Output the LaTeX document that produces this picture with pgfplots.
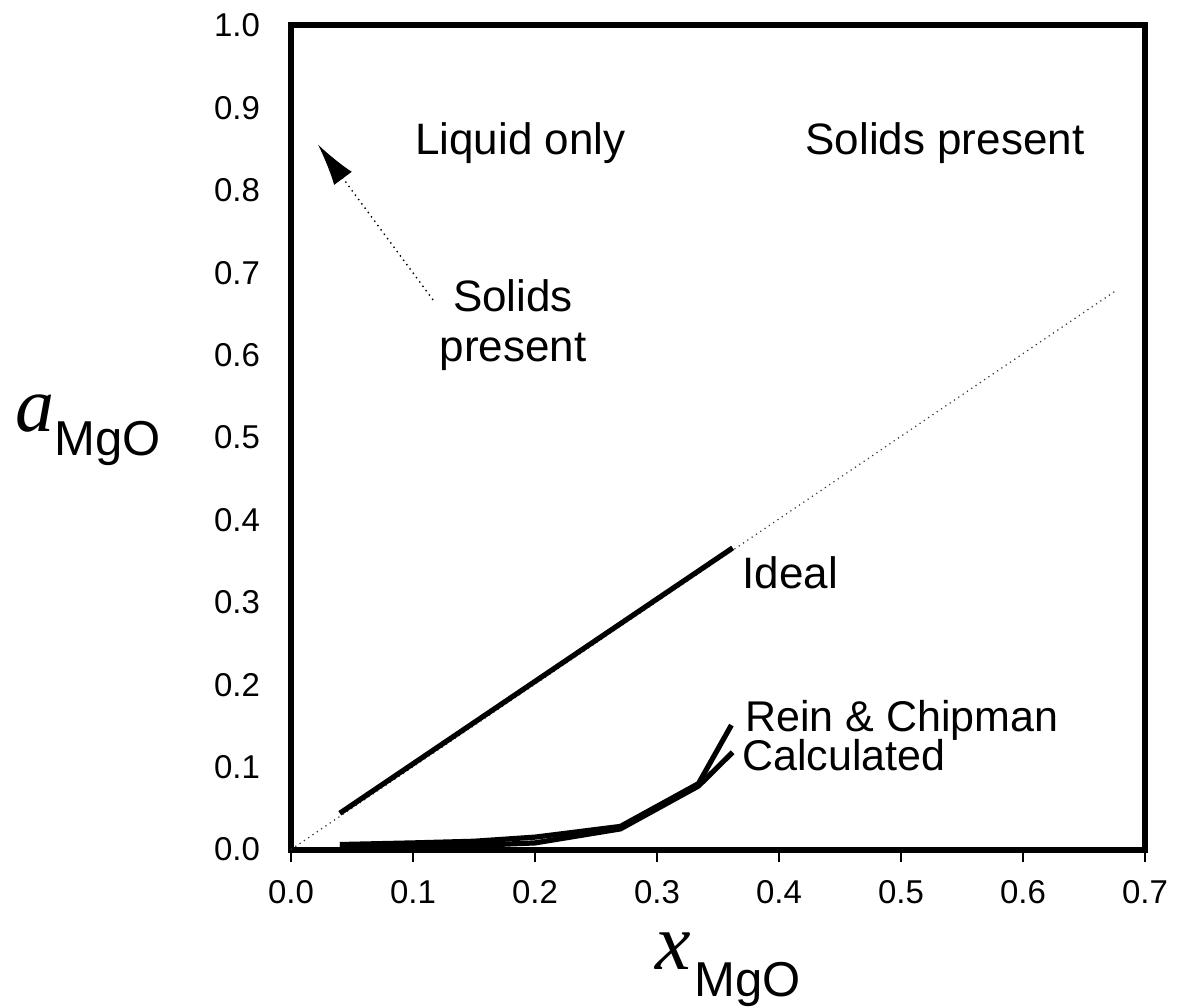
\documentclass[border=0pt]{standalone}
\usepackage{fontspec}
\setmainfont{Liberation Sans}
\newfontfamily\serifit{Liberation Serif}[ItalicFont={* Italic}]
\usepackage{pgfplots}
\pgfplotsset{compat=1.18}
\usetikzlibrary{arrows.meta}

\begin{document}
\begin{tikzpicture}
\begin{axis}[
    at={(0,0)}, anchor=south west,
    width=427pt, height=412pt,
    scale only axis,
    xmin=0, xmax=0.7,
    ymin=0, ymax=1,
    clip=false,
    axis line style={line width=3pt},
    xtick={0,0.1,...,0.7},
    ytick={0,0.1,...,1.0},
    xtick pos=bottom,
    ytick pos=left,
    tick align=outside,
    major tick length=6pt,
    xtick style={line width=0.6pt, black},
    ytick style={draw=none},
    /pgf/number format/assume math mode=true,
    /pgf/number format/fixed,
    /pgf/number format/fixed zerofill,
    /pgf/number format/precision=1,
    ticklabel style={font=\fontsize{16.5}{16.5}\selectfont},
    yticklabel style={xshift=-6pt},
    xticklabel style={yshift=-6pt},
]
% y = x reference (dotted)
\addplot[black!80, line width=0.6pt, dotted] coordinates {(0,0) (0.675,0.677)};
% Ideal
\addplot[black, line width=2.6pt] coordinates {(0.04,0.044) (0.362,0.366)};
% Rein & Chipman
\addplot[black, line width=2.6pt] coordinates {
    (0.04,0.006) (0.10,0.008) (0.15,0.010) (0.20,0.015)
    (0.27,0.028) (0.334,0.080) (0.361,0.151)};
% Calculated
\addplot[black, line width=2.6pt] coordinates {
    (0.04,0.003) (0.10,0.004) (0.15,0.005) (0.20,0.008)
    (0.27,0.025) (0.334,0.077) (0.362,0.118)};
% arrow
\addplot[black, line width=0.7pt, dotted, -{Latex[length=21pt,width=11pt]}]
    coordinates {(0.1164,0.667) (0.0221,0.8555)};

\node[anchor=base, font=\fontsize{22}{22}\selectfont] at (axis cs:0.188,0.8434) {Liquid only};
\node[anchor=base, font=\fontsize{22}{22}\selectfont] at (axis cs:0.536,0.8434) {Solids present};
\node[anchor=base, font=\fontsize{22}{22}\selectfont] at (axis cs:0.182,0.6527) {Solids};
\node[anchor=base, font=\fontsize{22}{22}\selectfont] at (axis cs:0.182,0.592) {present};
\node[anchor=base west, inner sep=0pt, font=\fontsize{22}{22}\selectfont] at (axis cs:0.3697,0.3163) {Ideal};
\node[anchor=base west, inner sep=0pt, font=\fontsize{21.5}{21.5}\selectfont] at (axis cs:0.372,0.1427) {Rein \& Chipman};
\node[anchor=base west, inner sep=0pt, font=\fontsize{21.5}{21.5}\selectfont] at (axis cs:0.3697,0.0955) {Calculated};

\node[anchor=base west, inner sep=0pt] at (axis cs:-0.2262,0.5067)
    {{\fontsize{39}{39}\selectfont\serifit\itshape a}\raisebox{-12pt}{\fontsize{24.5}{24.5}\selectfont MgO}};
\node[anchor=base west, inner sep=0pt] at (axis cs:0.2984,-0.1456)
    {{\fontsize{40}{40}\selectfont\serifit\itshape x}\,\raisebox{-13.5pt}{\fontsize{24.5}{24.5}\selectfont MgO}};
\end{axis}
\useasboundingbox (-145.5pt,-75.75pt) rectangle (450.5pt,424.75pt);
\end{tikzpicture}
\end{document}
